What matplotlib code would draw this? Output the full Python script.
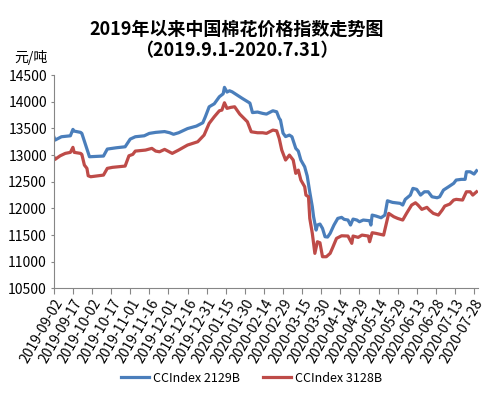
import matplotlib
matplotlib.use("Agg")
import matplotlib.pyplot as plt
import matplotlib.dates as mdates
import pandas as pd

plt.rcParams["font.family"] = ["Noto Sans CJK SC", "DejaVu Sans"]

# CCIndex 2129B (元/吨)
blue_dates = [
    "2019-09-02", "2019-09-03", "2019-09-08", "2019-09-15", "2019-09-17", "2019-09-18",
    "2019-09-23", "2019-09-24", "2019-09-27", "2019-09-30", "2019-10-11", "2019-10-14",
    "2019-10-21", "2019-10-28", "2019-11-01", "2019-11-05", "2019-11-12", "2019-11-16",
    "2019-11-21", "2019-11-28", "2019-12-02", "2019-12-05", "2019-12-09", "2019-12-16",
    "2019-12-23", "2019-12-28", "2019-12-30", "2020-01-02", "2020-01-06", "2020-01-10",
    "2020-01-13", "2020-01-14", "2020-01-16", "2020-01-18", "2020-01-20", "2020-01-24",
    "2020-01-28", "2020-02-03", "2020-02-05", "2020-02-09", "2020-02-13", "2020-02-16",
    "2020-02-21", "2020-02-24", "2020-02-26", "2020-02-27", "2020-02-29", "2020-03-02",
    "2020-03-05", "2020-03-07", "2020-03-10", "2020-03-12", "2020-03-14", "2020-03-17",
    "2020-03-19", "2020-03-21", "2020-03-23", "2020-03-24", "2020-03-26", "2020-03-27",
    "2020-03-29", "2020-03-31", "2020-04-02", "2020-04-04", "2020-04-06", "2020-04-09",
    "2020-04-12", "2020-04-15", "2020-04-17", "2020-04-20", "2020-04-22", "2020-04-24",
    "2020-04-27", "2020-04-29", "2020-05-02", "2020-05-07", "2020-05-08", "2020-05-09",
    "2020-05-12", "2020-05-16", "2020-05-19", "2020-05-21", "2020-05-25", "2020-05-31",
    "2020-06-02", "2020-06-04", "2020-06-08", "2020-06-10", "2020-06-13", "2020-06-16",
    "2020-06-19", "2020-06-22", "2020-06-25", "2020-06-29", "2020-07-01", "2020-07-04",
    "2020-07-08", "2020-07-12", "2020-07-14", "2020-07-18", "2020-07-21", "2020-07-22",
    "2020-07-25", "2020-07-28", "2020-07-30",
]
blue_values = [
    13343, 13281, 13343, 13361, 13481, 13449,
    13425, 13406, 13187, 12968, 12981, 13112,
    13136, 13155, 13299, 13343, 13361, 13406,
    13425, 13440, 13418, 13389, 13418, 13496,
    13543, 13605, 13718, 13905, 13961, 14093,
    14149, 14269, 14181, 14205, 14186, 14124,
    14062, 13974, 13796, 13806, 13781, 13768,
    13830, 13811, 13688, 13656, 13412, 13346,
    13374, 13343, 13125, 13074, 12906, 12780,
    12606, 12306, 12030, 11843, 11593, 11687,
    11706, 11625, 11468, 11462, 11531, 11687,
    11812, 11831, 11794, 11781, 11687, 11799,
    11781, 11749, 11781, 11768, 11687, 11874,
    11856, 11824, 11874, 12142, 12112, 12094,
    12062, 12169, 12249, 12375, 12356, 12249,
    12311, 12311, 12217, 12199, 12217, 12343,
    12405, 12469, 12531, 12544, 12544, 12686,
    12686, 12643, 12705,
]

# CCIndex 3128B
red_dates = [
    "2019-09-02", "2019-09-03", "2019-09-07", "2019-09-11", "2019-09-15", "2019-09-17",
    "2019-09-18", "2019-09-23", "2019-09-24", "2019-09-26", "2019-09-28", "2019-09-29",
    "2019-10-01", "2019-10-11", "2019-10-14", "2019-10-18", "2019-10-28", "2019-10-31",
    "2019-11-03", "2019-11-05", "2019-11-13", "2019-11-18", "2019-11-21", "2019-11-24",
    "2019-11-28", "2019-12-04", "2019-12-09", "2019-12-16", "2019-12-24", "2019-12-29",
    "2020-01-02", "2020-01-06", "2020-01-10", "2020-01-12", "2020-01-14", "2020-01-16",
    "2020-01-19", "2020-01-22", "2020-01-26", "2020-02-01", "2020-02-04", "2020-02-09",
    "2020-02-13", "2020-02-16", "2020-02-21", "2020-02-24", "2020-02-26", "2020-02-28",
    "2020-03-02", "2020-03-05", "2020-03-08", "2020-03-10", "2020-03-12", "2020-03-14",
    "2020-03-17", "2020-03-18", "2020-03-20", "2020-03-21", "2020-03-23", "2020-03-25",
    "2020-03-27", "2020-03-29", "2020-03-31", "2020-04-03", "2020-04-06", "2020-04-08",
    "2020-04-11", "2020-04-15", "2020-04-20", "2020-04-23", "2020-04-24", "2020-04-28",
    "2020-05-01", "2020-05-06", "2020-05-07", "2020-05-09", "2020-05-12", "2020-05-18",
    "2020-05-22", "2020-05-26", "2020-05-29", "2020-06-02", "2020-06-05", "2020-06-09",
    "2020-06-12", "2020-06-14", "2020-06-17", "2020-06-21", "2020-06-23", "2020-06-26",
    "2020-06-30", "2020-07-03", "2020-07-05", "2020-07-09", "2020-07-12", "2020-07-14",
    "2020-07-19", "2020-07-22", "2020-07-25", "2020-07-27", "2020-07-30",
]
red_values = [
    12968, 12919, 12986, 13031, 13050, 13144,
    13050, 13031, 13012, 12812, 12750, 12611,
    12593, 12624, 12750, 12769, 12793, 12986,
    13012, 13074, 13093, 13125, 13074, 13061,
    13106, 13031, 13093, 13187, 13249, 13374,
    13594, 13718, 13830, 13843, 13980, 13875,
    13894, 13905, 13768, 13624, 13436, 13418,
    13418, 13406, 13468, 13455, 13312, 13093,
    12906, 12999, 12906, 12656, 12718, 12531,
    12406, 12249, 12217, 11812, 11531, 11156,
    11374, 11355, 11093, 11093, 11156, 11265,
    11437, 11486, 11481, 11344, 11481, 11456,
    11499, 11481, 11374, 11543, 11531, 11499,
    11906, 11843, 11812, 11781, 11906, 12062,
    12105, 12062, 11981, 12019, 11968, 11906,
    11874, 11968, 12043, 12081, 12156, 12169,
    12156, 12311, 12311, 12249, 12311,
]

series_names = ["CCIndex 2129B", "CCIndex 3128B"]
y_ticks = list(range(10500, 14501, 500))

BLUE = "#4A7EBB"
RED = "#BE4B48"
AXIS_GREY = "#868686"

fig = plt.figure(figsize=(5.03, 3.95), dpi=100)
ax = fig.add_axes([0.107, 0.270, 0.843, 0.540])

ax.plot(pd.to_datetime(blue_dates), blue_values, color=BLUE, lw=2.3,
        label=series_names[0], solid_joinstyle="round")
ax.plot(pd.to_datetime(red_dates), red_values, color=RED, lw=2.3,
        label=series_names[1], solid_joinstyle="round")

ax.set_ylim(10500, 14500)
ax.set_yticks(y_ticks)
ax.set_xlim(pd.Timestamp("2019-09-02"), pd.Timestamp("2020-07-31"))

tick_dates = pd.date_range("2019-09-02", "2020-07-28", freq="15D")
ax.set_xticks(tick_dates)
ax.xaxis.set_major_formatter(mdates.DateFormatter("%Y-%m-%d"))
plt.setp(ax.get_xticklabels(), rotation=60, ha="right", rotation_mode="anchor")

for side in ("top", "right"):
    ax.spines[side].set_visible(False)
for side in ("left", "bottom"):
    ax.spines[side].set_color(AXIS_GREY)
    ax.spines[side].set_linewidth(0.8)
ax.tick_params(axis="x", length=4, width=0.8, color=AXIS_GREY, labelsize=10, pad=2)
ax.tick_params(axis="y", length=2, width=0.8, color=AXIS_GREY, labelsize=10, pad=3)

fig.text(0.47, 0.927, "2019年以来中国棉花价格指数走势图", ha="center", va="center",
         fontsize=13, fontweight="bold")
fig.text(0.47, 0.872, "（2019.9.1-2020.7.31）", ha="center", va="center",
         fontsize=13, fontweight="bold")
fig.text(0.062, 0.855, "元/吨", ha="center", va="center", fontsize=10)

fig.legend(loc="center", bbox_to_anchor=(0.5, 0.043), ncol=2, frameon=False,
           fontsize=9, handlelength=2.3, columnspacing=1.8, handletextpad=0.3)

fig.savefig("out.png", dpi=100)
